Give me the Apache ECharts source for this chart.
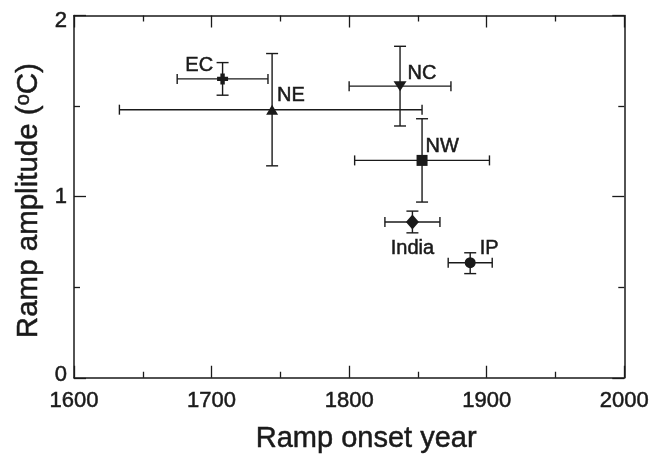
<!DOCTYPE html>
<html>
<head>
<meta charset="utf-8">
<script src="https://cdn.jsdelivr.net/npm/echarts@6/dist/echarts.min.js"></script>
<style>html,body{margin:0;padding:0;background:#fff;}#c{width:652px;height:459px;}</style>
</head>
<body>
<div id="c"></div>
<script>
const names = ['EC', 'NE', 'NC', 'NW', 'India', 'IP'];
const years = [1708, 1744, 1837, 1853, 1846, 1888];
const amps = [1.65, 1.48, 1.61, 1.20, 0.86, 0.635];
const yearLo = [1675, 1633, 1800, 1804, 1826, 1872];
const yearHi = [1741, 1853, 1874, 1902, 1866, 1904];
const ampLo = [1.56, 1.17, 1.39, 0.97, 0.80, 0.575];
const ampHi = [1.74, 1.79, 1.83, 1.43, 0.92, 0.69];
const xTicks = [1600, 1700, 1800, 1900, 2000];
const yTicks = [0, 1, 2];

const FONT = '"Liberation Sans", Arial, Helvetica, sans-serif';
const INK = '#1a1a1a';
const HEAVY = {textBorderColor: INK, textBorderWidth: 0.5};

const symbols = [
  'path://M3,0H7V3H10V7H7V10H3V7H0V3H3Z',
  'triangle', 'triangle', 'rect', 'diamond', 'circle'
];
const symSizes = [[11, 11], [12, 10], [13, 10], [11, 11], [13, 15], [11, 11]];
const rotates = [0, 0, 180, 0, 0, 0];
const labelCfg = [
  {position: 'left', distance: 4, offset: [0, -13]},
  {position: 'right', distance: 0, offset: [-1, -14]},
  {position: 'right', distance: 1, offset: [0, -13]},
  {position: 'right', distance: 0, offset: [-2, -14]},
  {position: 'bottom', distance: 9, offset: [0, 0]},
  {position: 'right', distance: 4, offset: [0, -14]}
];

const pointData = names.map((n, i) => ({
  name: n,
  value: [years[i], amps[i]],
  symbol: symbols[i],
  symbolSize: symSizes[i],
  symbolRotate: rotates[i],
  label: Object.assign({show: true, formatter: n}, labelCfg[i])
}));
const errData = names.map((n, i) => [years[i], amps[i], yearLo[i], yearHi[i], ampLo[i], ampHi[i]]);

const chart = echarts.init(document.getElementById('c'), null, {renderer: 'canvas'});

const axisCommon = {
  axisLine: {show: true, onZero: false, lineStyle: {color: INK, width: 1.5}},
  axisTick: {show: true, inside: true, length: 12, lineStyle: {color: INK, width: 1.3}},
  minorTick: {show: true, splitNumber: 2, length: 6, lineStyle: {color: INK, width: 1.3}},
  splitLine: {show: false},
  minorSplitLine: {show: false}
};

chart.setOption({
  animation: false,
  backgroundColor: '#fff',
  grid: {left: 74, right: 27, top: 15.5, bottom: 77},
  xAxis: [
    Object.assign({
      type: 'value', position: 'bottom', min: 1600, max: 2000, interval: 100,
      name: 'Ramp onset year', nameLocation: 'middle', nameGap: 47,
      nameTextStyle: Object.assign({fontFamily: FONT, fontSize: 29, color: INK, padding: [0, 0, 0, 34]}, HEAVY),
      axisLabel: Object.assign({
        fontFamily: FONT, fontSize: 22, color: INK, margin: 12,
        formatter: v => xTicks.includes(v) ? String(v) : ''
      }, HEAVY)
    }, axisCommon),
    Object.assign({
      type: 'value', position: 'top', min: 1600, max: 2000, interval: 100,
      axisLabel: {show: false}
    }, axisCommon)
  ],
  yAxis: [
    Object.assign({
      type: 'value', position: 'left', min: 0, max: 2, interval: 1,
      name: 'Ramp amplitude ({s|o}C)', nameLocation: 'middle', nameGap: 28,
      nameTextStyle: Object.assign({
        fontFamily: FONT, fontSize: 29.5, color: INK, padding: [0, 8, 0, 0],
        rich: {s: Object.assign({fontFamily: FONT, fontSize: 20, color: INK, verticalAlign: 'top', padding: [0, 0, 10, 0]}, HEAVY)}
      }, HEAVY),
      axisLabel: Object.assign({
        fontFamily: FONT, fontSize: 22, color: INK, margin: 7,
        formatter: v => {
          if (!yTicks.includes(v)) return '';
          if (v === 0) return '{lo|0}';
          if (v === 2) return '{hi|2}';
          return String(v);
        },
        rich: {
          lo: Object.assign({fontFamily: FONT, fontSize: 22, color: INK, padding: [0, 0, 6, 0]}, HEAVY),
          hi: Object.assign({fontFamily: FONT, fontSize: 22, color: INK, padding: [10, 0, 0, 0]}, HEAVY)
        }
      }, HEAVY)
    }, axisCommon),
    Object.assign({
      type: 'value', position: 'right', min: 0, max: 2, interval: 1,
      axisLabel: {show: false}
    }, axisCommon)
  ],
  series: [
    {
      type: 'custom',
      xAxisIndex: 0, yAxisIndex: 0,
      z: 1,
      silent: true,
      data: errData,
      renderItem: function (params, api) {
        const c = api.coord([api.value(0), api.value(1)]);
        const xl = api.coord([api.value(2), api.value(1)]);
        const xh = api.coord([api.value(3), api.value(1)]);
        const yl = api.coord([api.value(0), api.value(4)]);
        const yh = api.coord([api.value(0), api.value(5)]);
        const capH = 5, capW = 6;
        const style = {stroke: INK, lineWidth: 1.4, fill: null};
        const line = (x1, y1, x2, y2) => ({type: 'line', shape: {x1, y1, x2, y2}, style});
        return {
          type: 'group',
          children: [
            line(xl[0], c[1], xh[0], c[1]),
            line(xl[0], c[1] - capH, xl[0], c[1] + capH),
            line(xh[0], c[1] - capH, xh[0], c[1] + capH),
            line(c[0], yl[1], c[0], yh[1]),
            line(c[0] - capW, yl[1], c[0] + capW, yl[1]),
            line(c[0] - capW, yh[1], c[0] + capW, yh[1])
          ]
        };
      }
    },
    {
      type: 'scatter',
      xAxisIndex: 0, yAxisIndex: 0,
      z: 3,
      itemStyle: {color: INK, opacity: 1},
      label: Object.assign({fontFamily: FONT, fontSize: 20, color: INK}, HEAVY),
      data: pointData
    }
  ]
});
</script>
</body>
</html>
